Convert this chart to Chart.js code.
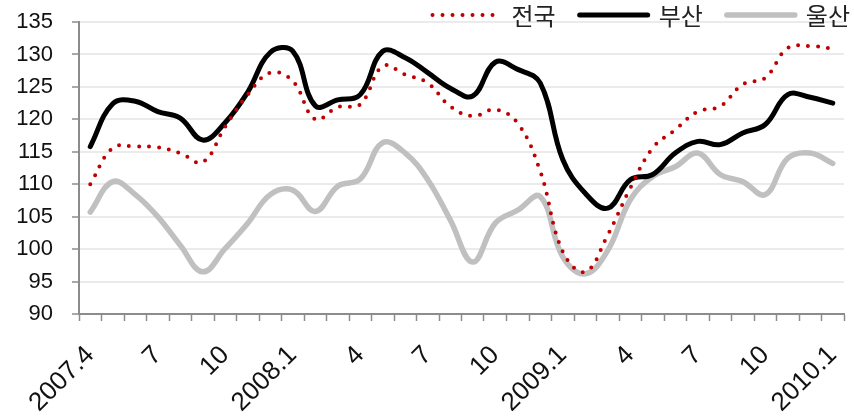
<!DOCTYPE html>
<html>
<head>
<meta charset="utf-8">
<script src="https://cdn.jsdelivr.net/npm/chart.js@4/dist/chart.umd.min.js"></script>
<style>
body{margin:0;background:#fff;}
#wrap{width:854px;height:420px;position:relative;}
</style>
</head>
<body>
<div id="wrap"><canvas id="chart"></canvas></div>
<script>
// monthly, 2007.4 .. 2010.1
const months = ["2007.4","5","6","7","8","9","10","11","12",
  "2008.1","2","3","4","5","6","7","8","9","10","11","12",
  "2009.1","2","3","4","5","6","7","8","9","10","11","12",
  "2010.1"];

const tickLabels = ["2007.4","7","10","2008.1","4","7","10","2009.1","4","7","10","2010.1"];

const national = [110.0,115.6,115.8,115.7,114.8,113.4,118.9,123.8,127.2,125.9,120.0,121.9,
  122.3,128.2,126.9,125.6,122.0,120.5,121.5,119.4,112.0,99.6,96.5,102.2,
  109.4,115.6,118.4,121.2,122.0,125.4,126.4,131.0,131.3,130.9];

const busan = [115.8,122.4,122.8,121.2,120.2,116.8,119.5,124.2,130.3,130.5,122.1,123.0,
  123.8,130.5,129.5,127.2,124.8,123.6,128.8,127.7,125.6,113.8,108.6,106.3,
  110.7,111.5,114.8,116.6,116.1,117.9,119.2,123.8,123.4,122.5];

const ulsan = [105.7,110.4,108.4,105.0,100.6,96.5,100.1,104.0,108.4,109.1,105.8,109.7,
  110.8,116.4,114.8,110.7,104.5,98.0,104.0,106.0,108.1,98.8,96.2,99.8,
  107.6,111.2,112.7,114.8,111.5,110.4,108.4,114.0,114.8,113.2];

const axisGray = "#8c8c8c";

// built-in legend gets clipped/pushed down, so draw a line-sample legend over the top strip
const lineLegend = {
  id: "lineLegend",
  afterDraw(chart) {
    const ctx = chart.ctx;
    const sets = chart.data.datasets;
    const sample = 70, gapText = 11, gapItem = 22, y = 15;
    ctx.save();
    ctx.font = "24px 'Noto Sans CJK KR'";
    ctx.textBaseline = "middle";
    const widths = sets.map(ds => ctx.measureText(ds.label).width);
    const total = widths.reduce((a, w) => a + sample + gapText + w, 0) + gapItem * (sets.length - 1);
    let x = chart.width - 4 - total;
    sets.forEach((ds, i) => {
      ctx.beginPath();
      ctx.strokeStyle = ds.borderColor;
      ctx.lineWidth = ds.borderWidth;
      ctx.lineCap = ds.borderCapStyle;
      ctx.setLineDash(ds.borderDash || []);
      ctx.moveTo(x + 2, y);
      ctx.lineTo(x + sample, y);
      ctx.stroke();
      ctx.setLineDash([]);
      ctx.fillStyle = "#222";
      ctx.fillText(ds.label, x + sample + gapText, y + 1);
      x += sample + gapText + widths[i] + gapItem;
    });
    ctx.restore();
  }
};

new Chart(document.getElementById("chart"), {
  type: "line",
  data: {
    labels: months,
    datasets: [
      {
        label: "전국",
        data: national,
        borderColor: "#c00000",
        borderWidth: 4,
        borderDash: [0, 10],
        borderCapStyle: "round",
        pointRadius: 0,
        tension: 0.4
      },
      {
        label: "부산",
        data: busan,
        borderColor: "#000000",
        borderWidth: 5,
        borderCapStyle: "round",
        borderJoinStyle: "round",
        pointRadius: 0,
        tension: 0.4
      },
      {
        label: "울산",
        data: ulsan,
        borderColor: "#c0c0c0",
        borderWidth: 5.5,
        borderCapStyle: "round",
        borderJoinStyle: "round",
        pointRadius: 0,
        tension: 0.4
      }
    ]
  },
  plugins: [lineLegend],
  options: {
    responsive: true,
    maintainAspectRatio: false,
    animation: false,
    layout: { padding: { top: 22, left: 0, right: 10, bottom: 0 } },
    plugins: {
      tooltip: { enabled: false },
      legend: { display: false }
    },
    scales: {
      x: {
        offset: true,
        grid: {
          offset: true,
          drawOnChartArea: false,
          tickLength: 7,
          tickColor: axisGray,
          tickWidth: 1.5
        },
        border: { color: axisGray, width: 2 },
        afterFit(s) {
          s.height = 106;
          s.paddingLeft = 0;
          s.paddingRight = 10;
        },
        ticks: {
          autoSkip: false,
          maxRotation: 45,
          minRotation: 45,
          padding: 19,
          color: "#111",
          font: { family: "'Liberation Sans'", size: 26 },
          callback(v, i) { return i % 3 === 0 ? tickLabels[i / 3] : ""; }
        }
      },
      y: {
        min: 90,
        max: 135,
        afterFit(s) {
          s.width = 79;
          // tick padding would otherwise be added above/below the plot too
          s.paddingTop = 0;
          s.paddingBottom = 0;
        },
        grid: {
          color: "#ebebeb",
          lineWidth: 2,
          tickLength: 7,
          tickColor: axisGray,
          tickWidth: 1.5
        },
        border: { color: axisGray, width: 2 },
        ticks: {
          stepSize: 5,
          padding: 19,
          color: "#111",
          font: { family: "'Liberation Sans'", size: 22 }
        }
      }
    }
  }
});
</script>
</body>
</html>
